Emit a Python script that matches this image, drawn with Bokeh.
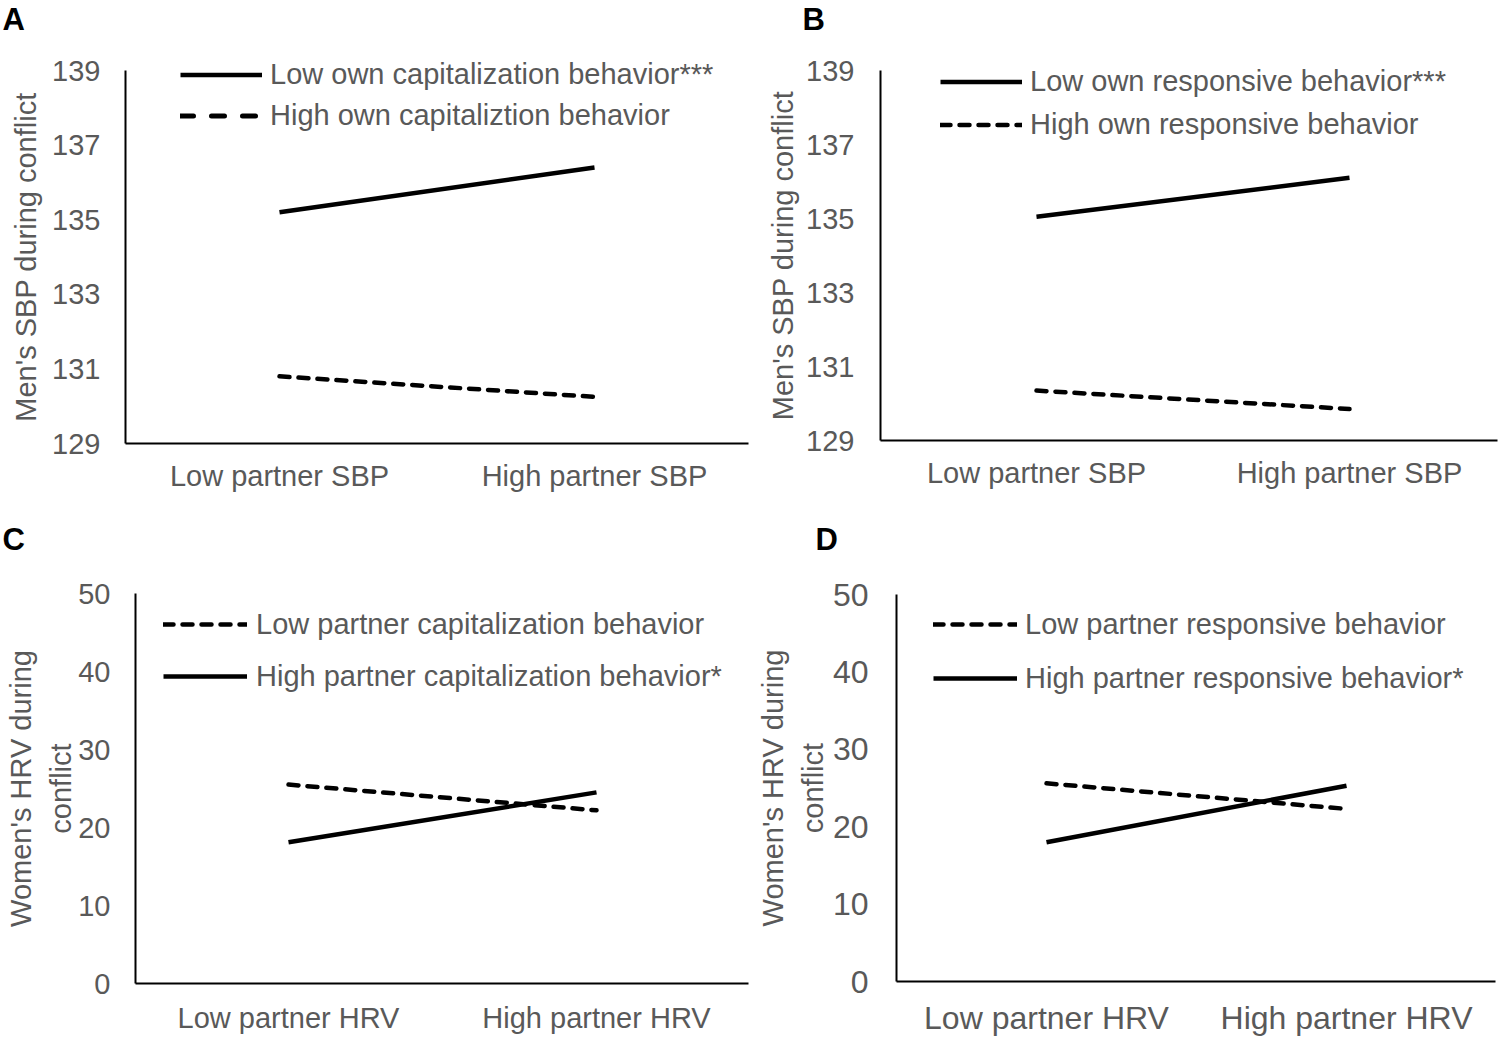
from bokeh.plotting import figure
from bokeh.models import Range1d, FixedTicker, Legend, LegendItem, Label
from bokeh.layouts import column, row
from bokeh.embed import file_html
from bokeh.resources import INLINE

FONT = "Liberation Sans"
GRAY = "#595959"
NAN = float("nan")

# ---------------- data ----------------
a_categories = ["Low partner SBP", "High partner SBP"]
a_low_own_cap = [135.2, 136.4]
a_high_own_cap = [130.8, 130.25]
a_yticks = [129, 131, 133, 135, 137, 139]

b_categories = ["Low partner SBP", "High partner SBP"]
b_low_own_resp = [135.05, 136.1]
b_high_own_resp = [130.35, 129.85]
b_yticks = [129, 131, 133, 135, 137, 139]

c_categories = ["Low partner HRV", "High partner HRV"]
c_low_partner_cap = [25.5, 22.2]
c_high_partner_cap = [18.1, 24.5]
c_yticks = [0, 10, 20, 30, 40, 50]

d_categories = ["Low partner HRV", "High partner HRV"]
d_low_partner_resp = [25.6, 22.3]
d_high_partner_resp = [18.0, 25.3]
d_yticks = [0, 10, 20, 30, 40, 50]


def make_panel(W, H, box, cpx, ylims, yticks, ylabel, cats,
               tick_fs, ytick_standoff, ylabel_standoff, xtick_standoff,
               letter, letter_xy):
    """box = plot-area pixel box (L, R, T, B) inside the figure;
    cpx = pixel x of first and second category."""
    L, R, T, B = box
    c0, c1 = cpx
    ymin, ymax = ylims
    k = float(c1 - c0)
    ky = (B - T) / float(ymax - ymin)
    xr = Range1d(-c0 / k, (W - c0) / k)
    yr = Range1d(ymin - (H - B) / ky, ymax + T / ky)
    p = figure(width=W, height=H, output_backend="svg",
               toolbar_location=None, x_range=xr, y_range=yr)
    p.min_border_left = 0
    p.min_border_right = 0
    p.min_border_top = 0
    p.min_border_bottom = 0
    p.outline_line_color = None
    p.grid.grid_line_color = None
    p.background_fill_color = "white"
    p.border_fill_color = "white"

    xa = p.xaxis[0]
    xa.ticker = FixedTicker(ticks=list(range(len(cats))))
    xa.major_label_overrides = {i: c for i, c in enumerate(cats)}
    xa.fixed_location = ymin
    xa.bounds = ((L - c0) / k, (R - c0) / k)
    ya = p.yaxis[0]
    ya.ticker = FixedTicker(ticks=yticks)
    ya.axis_label = ylabel
    ya.fixed_location = (L - c0) / k
    ya.bounds = (ymin, ymax)
    for ax in (xa, ya):
        ax.axis_line_color = "black"
        ax.axis_line_width = 2
        ax.major_tick_line_color = None
        ax.minor_tick_line_color = None
        ax.major_tick_out = 0
        ax.major_tick_in = 0
        ax.major_label_text_font = FONT
        ax.major_label_text_font_size = tick_fs
        ax.major_label_text_color = GRAY
        ax.axis_label_text_font = FONT
        ax.axis_label_text_font_size = "29px"
        ax.axis_label_text_font_style = "normal"
        ax.axis_label_text_color = GRAY
    ya.axis_label_text_line_height = 1.25
    ya.major_label_standoff = ytick_standoff
    ya.axis_label_standoff = ylabel_standoff
    xa.major_label_standoff = xtick_standoff

    lx, ly = letter_xy
    p.add_layout(Label(x=lx, y=ly, x_units="screen", y_units="screen",
                       text=letter, text_font=FONT, text_font_size="31px",
                       text_font_style="bold", text_color="black",
                       text_baseline="alphabetic"))
    return p


def add_legend(p, items, loc, glyph_w, glyph_h, standoff):
    lg = Legend(items=items, location=loc, glyph_width=glyph_w,
                glyph_height=glyph_h, spacing=0, padding=0, margin=0,
                label_standoff=standoff, label_text_font=FONT,
                label_text_font_size="29px", label_text_color=GRAY,
                background_fill_alpha=0, border_line_color=None,
                label_height=glyph_h)
    p.add_layout(lg)


PLOT_DASH = "10 9"

# ---------------- Panel A ----------------
pA = make_panel(750, 520, (125, 748, 70, 443), (279, 594), (129, 139),
                a_yticks, "Men's SBP during conflict", a_categories,
                "29px", 25, 7, 16, "A", (2, 501))
xa_ = list(range(len(a_categories)))
rA1 = pA.line(xa_, a_low_own_cap, line_color="black", line_width=4.5)
rA2 = pA.line(xa_, a_high_own_cap, line_color="black", line_width=4.5,
              line_dash=PLOT_DASH, line_cap="round")
# legend sample only (long dashes as in the original key)
rA2p = pA.line(xa_, [NAN] * len(xa_), line_color="black", line_width=5,
               line_dash="13 18", line_cap="round")
add_legend(pA, [LegendItem(label="Low own capitalization behavior***", renderers=[rA1]),
                LegendItem(label="High own capitaliztion behavior", renderers=[rA2p])],
           (180, 384), 82, 41, 8)

# ---------------- Panel B ----------------
pB = make_panel(750, 520, (130, 747, 70, 440), (286, 599), (129, 139),
                b_yticks, "Men's SBP during conflict", b_categories,
                "29px", 26, 4, 16, "B", (52, 501))
xb_ = list(range(len(b_categories)))
rB1 = pB.line(xb_, b_low_own_resp, line_color="black", line_width=4.5)
rB2 = pB.line(xb_, b_high_own_resp, line_color="black", line_width=4.5,
              line_dash=PLOT_DASH, line_cap="round")
add_legend(pB, [LegendItem(label="Low own responsive behavior***", renderers=[rB1]),
                LegendItem(label="High own responsive behavior", renderers=[rB2])],
           (190, 374), 82, 43, 8)

# ---------------- Panel C ----------------
pC = make_panel(750, 517, (135, 748, 73, 463), (288, 596), (0, 50),
                c_yticks, "Women's HRV during\nconflict", c_categories,
                "29px", 25, -2, 18, "C", (2, 498))
xc_ = list(range(len(c_categories)))
rC1 = pC.line(xc_, c_low_partner_cap, line_color="black", line_width=4.5,
              line_dash=PLOT_DASH, line_cap="round")
rC2 = pC.line(xc_, c_high_partner_cap, line_color="black", line_width=4.5)
add_legend(pC, [LegendItem(label="Low partner capitalization behavior", renderers=[rC1]),
                LegendItem(label="High partner capitalization behavior*", renderers=[rC2])],
           (163, 335), 84, 52, 9)

# ---------------- Panel D ----------------
pD = make_panel(750, 517, (146, 745, 74, 461), (296, 596), (0, 50),
                d_yticks, "Women's HRV during\nconflict", d_categories,
                "32px", 28, 1, 18, "D", (65, 498))
xd_ = list(range(len(d_categories)))
rD1 = pD.line(xd_, d_low_partner_resp, line_color="black", line_width=4.5,
              line_dash=PLOT_DASH, line_cap="round")
rD2 = pD.line(xd_, d_high_partner_resp, line_color="black", line_width=4.5)
add_legend(pD, [LegendItem(label="Low partner responsive behavior", renderers=[rD1]),
                LegendItem(label="High partner responsive behavior*", renderers=[rD2])],
           (183, 332), 84, 54, 8)

layout = column(row(pA, pB), row(pC, pD))
open("out.html", "w").write(file_html(layout, INLINE))
